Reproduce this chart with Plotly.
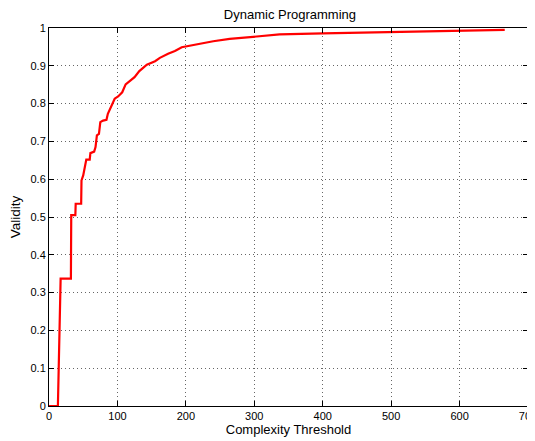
import plotly.graph_objects as go

threshold = [0, 13, 17, 32, 32.5, 38.5, 39, 47, 47.5, 50, 54.5, 59.5, 60.5, 66, 68, 70, 73, 75,
             79, 84, 86, 91, 96, 101, 107, 112, 118, 125, 132, 137, 143, 155, 162, 174, 184,
             194, 206, 216, 225, 240, 264, 298, 337, 400, 483, 560, 666]
validity = [0, 0, 0.337, 0.337, 0.505, 0.505, 0.535, 0.535, 0.597, 0.61, 0.652, 0.652, 0.669,
            0.673, 0.685, 0.716, 0.72, 0.751, 0.755, 0.757, 0.773, 0.795, 0.813, 0.819, 0.830,
            0.851, 0.859, 0.870, 0.886, 0.895, 0.903, 0.912, 0.921, 0.932, 0.939, 0.949, 0.953,
            0.958, 0.960, 0.965, 0.971, 0.977, 0.983, 0.986, 0.989, 0.993, 0.995, 0.997]

title_text = "Dynamic Programming"
x_label = "Complexity Threshold"
y_label = "Validity"

fig = go.Figure()
fig.add_trace(go.Scatter(x=threshold, y=validity, mode="lines",
                         line=dict(color="#ff0000", width=2.2), showlegend=False))

axis_common = dict(
    showline=True, linecolor="black", linewidth=1, mirror="ticks",
    ticks="inside", ticklen=5, tickcolor="black",
    showgrid=True, gridcolor="#666666", griddash="1px,3px", gridwidth=1,
    zeroline=False, tickfont=dict(size=11, color="black"), automargin=False,
    ticklabeloverflow="allow",
)

# page is offset by the default 8px body margin
fig.update_layout(
    width=527, height=433,
    margin=dict(l=41, r=7, t=20, b=35),
    paper_bgcolor="white", plot_bgcolor="white",
    font=dict(family="Liberation Sans, Arial, sans-serif", color="black"),
    title=dict(text=title_text, x=0.535, xanchor="center", y=0.986, yanchor="middle",
               font=dict(size=13)),
    xaxis=dict(range=[0, 700], tick0=0, dtick=100,
               title=dict(text=x_label, font=dict(size=13), standoff=2), **axis_common),
    yaxis=dict(range=[0, 1], tick0=0, dtick=0.1,
               title=dict(text=y_label, font=dict(size=13.5), standoff=6), **axis_common),
)

fig.write_html("out.html")
